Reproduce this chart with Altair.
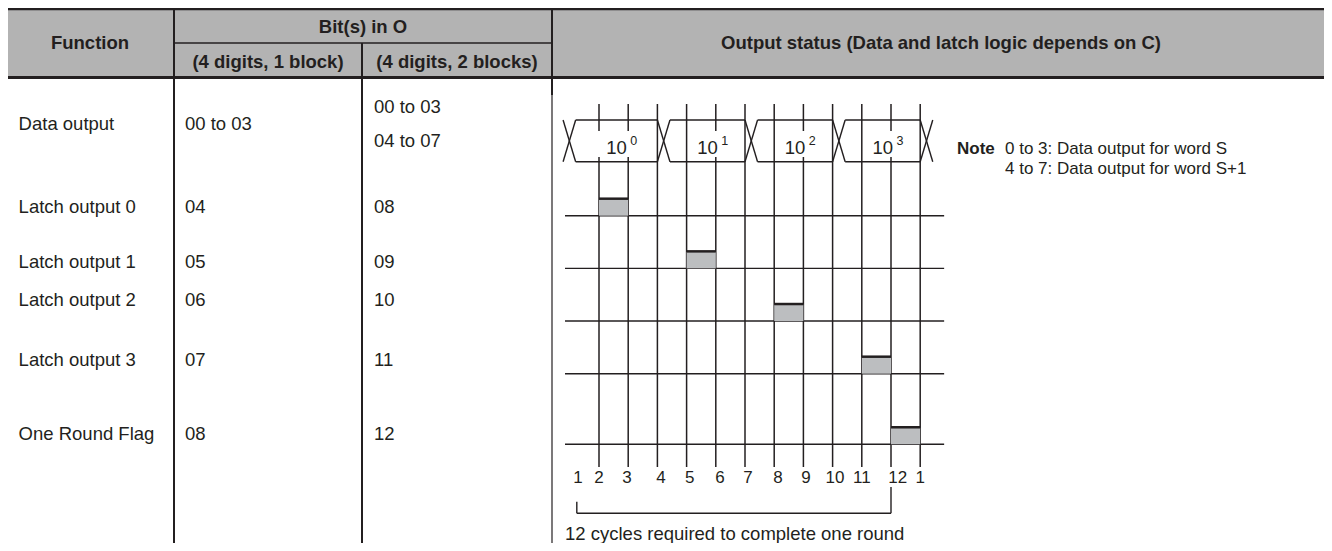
import altair as alt
import pandas as pd

# ------------------------------------------------------------------ content
header_top = ["Function", "Bit(s) in O", "Output status (Data and latch logic depends on C)"]
header_sub = ["(4 digits, 1 block)", "(4 digits, 2 blocks)"]
functions = ["Data output", "Latch output 0", "Latch output 1",
             "Latch output 2", "Latch output 3", "One Round Flag"]
bits_1block = ["00 to 03", "04", "05", "06", "07", "08"]
bits_2blocks = [["00 to 03", "04 to 07"], ["08"], ["09"], ["10"], ["11"], ["12"]]
note_label = "Note"
note_lines = ["0 to 3: Data output for word S", "4 to 7: Data output for word S+1"]

# timing chart content (x in cycles, y in signal-row levels)
cycle_edges = list(range(2, 14))
cycle_labels = ["1", "2", "3", "4", "5", "6", "7", "8", "9", "10", "11", "12", "1"]
cycle_label_pos = [1.28, 2.0, 2.96, 4.12, 5.11, 6.14, 7.10, 8.13, 9.09, 10.08, 11.0, 12.23, 13.0]
digit_exponents = ["0", "1", "2", "3"]
bus_transitions = [0.77, 4, 7, 10, 13]
latch_pulse_start = [2, 5, 8, 11, 12]
latch_levels = [1, 2, 3, 4, 5.34]
caption = "12 cycles required to complete one round"
round_span = [1.24, 12]

# ------------------------------------------------------------------ layout / style
W, H = 1316, 535
FONT = "Liberation Sans"
INK = "#231f20"
HEAD_GRAY = "#b3b3b3"
PULSE_GRAY = "#bcbec0"
FS = 18.5

col_lines = [166, 354, 544]
col_text_x = [10.6, 177, 366]
row_y = [115.5, 198.5, 253.5, 291.5, 352, 425.5]
two_line_y = [98.5, 132.5]

TX = alt.Scale(domain=[0, W], range=[0, W], nice=False, zero=False)
TY = alt.Scale(domain=[0, H], range=[0, H], nice=False, zero=False)
CX = alt.Scale(domain=[2, 13], range=[591, 912.2], nice=False, zero=False)
LY = alt.Scale(domain=[1, 4], range=[207.7, 365.7], nice=False, zero=False)


def rules(rows, sx, sy, w, color=INK):
    df = pd.DataFrame(rows, columns=["x", "x2", "y", "y2"])
    return alt.Chart(df).mark_rule(strokeWidth=w, color=color).encode(
        x=alt.X("x:Q", scale=sx, axis=None), x2="x2:Q",
        y=alt.Y("y:Q", scale=sy, axis=None), y2="y2:Q")


def rects(rows, sx, sy, color):
    df = pd.DataFrame(rows, columns=["x", "x2", "y", "y2"])
    return alt.Chart(df).mark_rect(color=color, strokeWidth=0).encode(
        x=alt.X("x:Q", scale=sx, axis=None), x2="x2:Q",
        y=alt.Y("y:Q", scale=sy, axis=None), y2="y2:Q")


def texts(rows, sx, sy, size=FS, weight="normal", align="left", baseline="middle"):
    df = pd.DataFrame(rows, columns=["t", "x", "y"])
    return alt.Chart(df).mark_text(font=FONT, fontSize=size, fontWeight=weight,
                                   align=align, baseline=baseline, color=INK).encode(
        x=alt.X("x:Q", scale=sx, axis=None),
        y=alt.Y("y:Q", scale=sy, axis=None),
        text="t:N")


# ------------------------------------------------------------------ table
head_fill = rects([[0, W, 1, 69.5]], TX, TY, HEAD_GRAY)
head_top = rules([[0, W, 1, 1]], TX, TY, 2.5)
head_bot = rules([[0, W, 69.5, 69.5]], TX, TY, 3)
head_mid = rules([[col_lines[0], col_lines[2], 35, 35]], TX, TY, 1.5)
vert_thick = rules([[col_lines[0], col_lines[0], 1, H],
                    [col_lines[1], col_lines[1], 35, H],
                    [col_lines[2], col_lines[2], 1, 87]], TX, TY, 2)
vert_thin = rules([[col_lines[2], col_lines[2], 87, H]], TX, TY, 1.2)

head_text = texts([[header_top[0], 82, 35],
                   [header_top[1], 355, 19],
                   [header_sub[0], 260, 53.5],
                   [header_sub[1], 449, 53.5],
                   [header_top[2], 933, 35]], TX, TY, weight="bold", align="center")

body_rows = []
for i, f in enumerate(functions):
    body_rows.append([f, col_text_x[0], row_y[i]])
    body_rows.append([bits_1block[i], col_text_x[1], row_y[i]])
    b2 = bits_2blocks[i]
    if len(b2) == 1:
        body_rows.append([b2[0], col_text_x[2], row_y[i]])
    else:
        for j, s in enumerate(b2):
            body_rows.append([s, col_text_x[2], two_line_y[j]])
body_text = texts(body_rows, TX, TY)

note_head = texts([[note_label, 949, 141]], TX, TY, size=17, weight="bold")
note_body = texts([[note_lines[0], 997, 141], [note_lines[1], 997, 161]], TX, TY, size=17)

table_layer = alt.layer(head_fill, head_top, head_bot, head_mid, vert_thick, vert_thin,
                        head_text, body_text, note_head, note_body)

# ------------------------------------------------------------------ timing chart
BUS_TOP, BUS_BOT = -0.817, -0.025
XW = 0.43
PULSE_H = 0.313

v_lines = rules([[c, c, -1.12, 5.77] for c in cycle_edges], CX, LY, 1.5)

bus_rows = []
for s in bus_transitions:
    bus_rows.append([s, s + XW, BUS_TOP, BUS_BOT])
    bus_rows.append([s, s + XW, BUS_BOT, BUS_TOP])
seg_centers = []
for a, b in zip(bus_transitions[:-1], bus_transitions[1:]):
    bus_rows.append([a + XW, b, BUS_TOP, BUS_TOP])
    bus_rows.append([a + XW, b, BUS_BOT, BUS_BOT])
    seg_centers.append((a + XW + b) / 2)
bus = rules(bus_rows, CX, LY, 1.4)

masks = rects([[c - 0.65, c + 0.95, -0.61, -0.115] for c in seg_centers], CX, LY, "white")
bus_base = texts([["10", c, -0.181] for c in seg_centers], CX, LY, align="center",
                 baseline="alphabetic")
bus_exp = texts([[e, c + 0.47, -0.342] for e, c in zip(digit_exponents, seg_centers)],
                CX, LY, size=12.5, baseline="alphabetic")

latch_lines = rules([[0.836, 13.82, lv, lv] for lv in latch_levels], CX, LY, 1.4)
pulse_fill = rects([[s, s + 1, lv - PULSE_H, lv] for s, lv in zip(latch_pulse_start, latch_levels)],
                   CX, LY, PULSE_GRAY)
pulse_top = rules([[s, s + 1, lv - PULSE_H - 0.01, lv - PULSE_H - 0.01]
                   for s, lv in zip(latch_pulse_start, latch_levels)], CX, LY, 2.5)

num_text = texts([[t, p, 6.08] for t, p in zip(cycle_labels, cycle_label_pos)], CX, LY,
                 size=17, align="center", baseline="alphabetic")
bracket = rules([[round_span[0], round_span[0], 6.43, 6.65],
                 [round_span[0], round_span[1], 6.65, 6.65],
                 [round_span[1], round_span[1], 6.15, 6.65]], CX, LY, 1.4)
cap_text = texts([[caption, 0.836, 7.16]], CX, LY, baseline="alphabetic")

timing_layer = alt.layer(v_lines, bus, masks, bus_base, bus_exp, latch_lines,
                         pulse_fill, pulse_top, num_text, bracket, cap_text)

chart = alt.layer(table_layer, timing_layer).resolve_scale(
    x="independent", y="independent"
).properties(
    width=W, height=H, padding=0,
    autosize=alt.AutoSizeParams(type="none"),
    background="white",
).configure_view(stroke=None)

chart.save("out.html", embed_options={"renderer": "svg", "actions": False})
